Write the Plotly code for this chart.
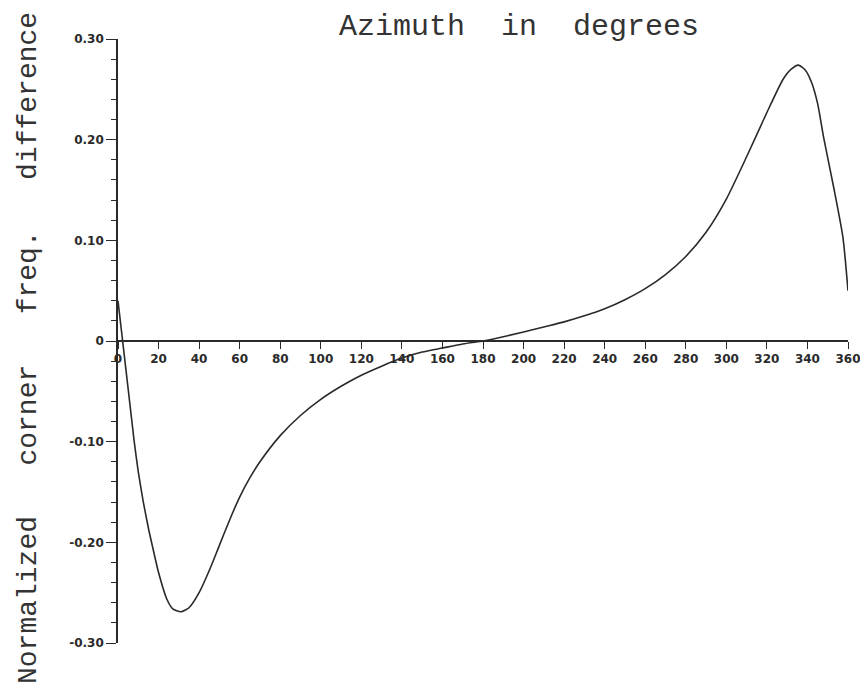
import plotly.graph_objects as go

# Data (azimuth in degrees, normalized corner freq. difference)
azimuth = [0, 2, 4, 6, 8, 10, 12.4, 15, 17, 20, 24, 27, 31, 35, 40, 45, 50, 55, 60, 65, 70,
           80, 90, 100, 110, 120, 130, 140, 150, 160, 170, 180, 184, 200, 210, 220, 230, 240,
           250, 260, 270, 280, 290, 300, 310, 320, 328, 332, 335.5, 339, 342, 345, 348, 353,
           357.5, 360]
difference = [0.040, 0.005, -0.030, -0.065, -0.100, -0.130, -0.159, -0.186, -0.204, -0.230,
              -0.256, -0.266, -0.269, -0.265, -0.250, -0.228, -0.203, -0.178, -0.155, -0.136,
              -0.120, -0.094, -0.074, -0.058, -0.045, -0.034, -0.025, -0.017, -0.011, -0.007,
              -0.003, 0.0, 0.0015, 0.009, 0.014, 0.019, 0.025, 0.032, 0.041, 0.052, 0.066,
              0.084, 0.108, 0.141, 0.183, 0.227, 0.260, 0.270, 0.274, 0.269, 0.257, 0.236,
              0.202, 0.152, 0.103, 0.050]

x_tickvals = list(range(0, 361, 20))
x_ticktext = [str(v) for v in x_tickvals]
y_tickvals = [0.30, 0.20, 0.10, 0.0, -0.10, -0.20, -0.30]
y_ticktext = ["0.30", "0.20", "0.10", "0", "-0.10", "-0.20", "-0.30"]

title_text = "Azimuth  in  degrees"
ylabel_text = "Normalized   corner   freq.   difference"

ink = "#2a2a2a"
tick_font = dict(family="DejaVu Sans", size=12, color=ink, weight="bold")
title_font = dict(family="Liberation Mono", size=30, color="#333333")
ylabel_font = dict(family="Liberation Mono", size=28, color="#333333")

# The page body has an 8px default margin, so figure pixels = page pixels - 8
W, H = 860, 689
L, R, T, B = 110, 20, 31, 54
pw, ph = W - L - R, H - T - B


def paper_x(px):
    return (px - 8 - L) / pw


def paper_y(py):
    return 1 - (py - 8 - T) / ph


fig = go.Figure()
fig.add_trace(go.Scatter(
    x=azimuth, y=difference, mode="lines",
    line=dict(color=ink, width=1.6, shape="spline", smoothing=0.6),
    hoverinfo="skip", showlegend=False,
))

fig.update_layout(
    width=W, height=H,
    margin=dict(l=L, r=R, t=T, b=B, autoexpand=False),
    paper_bgcolor="white", plot_bgcolor="white",
    showlegend=False,
    xaxis=dict(
        range=[0, 360], tickvals=x_tickvals, ticktext=x_ticktext,
        showgrid=False, zeroline=False, showline=True, linecolor=ink, linewidth=1.6,
        ticks="outside", ticklen=7, tickwidth=1.4, tickcolor=ink,
        tickfont=tick_font, anchor="free", position=0.5, automargin=False,
    ),
    yaxis=dict(
        range=[-0.30, 0.30], tickvals=y_tickvals, ticktext=y_ticktext,
        showgrid=False, zeroline=False, showline=True, linecolor=ink, linewidth=1.6,
        ticks="outside", ticklen=10, tickwidth=1.4, tickcolor=ink,
        tickfont=tick_font, automargin=False,
        minor=dict(dtick=0.02, ticks="outside", ticklen=5, tickwidth=1.2, tickcolor=ink),
    ),
    annotations=[
        dict(text=title_text, x=paper_x(519), y=paper_y(27), xref="paper", yref="paper",
             xanchor="center", yanchor="middle", showarrow=False, font=title_font),
        dict(text=ylabel_text, x=paper_x(28), y=paper_y(348), xref="paper", yref="paper",
             xanchor="center", yanchor="middle", showarrow=False, font=ylabel_font,
             textangle=-90),
    ],
)

fig.write_html("out.html")
